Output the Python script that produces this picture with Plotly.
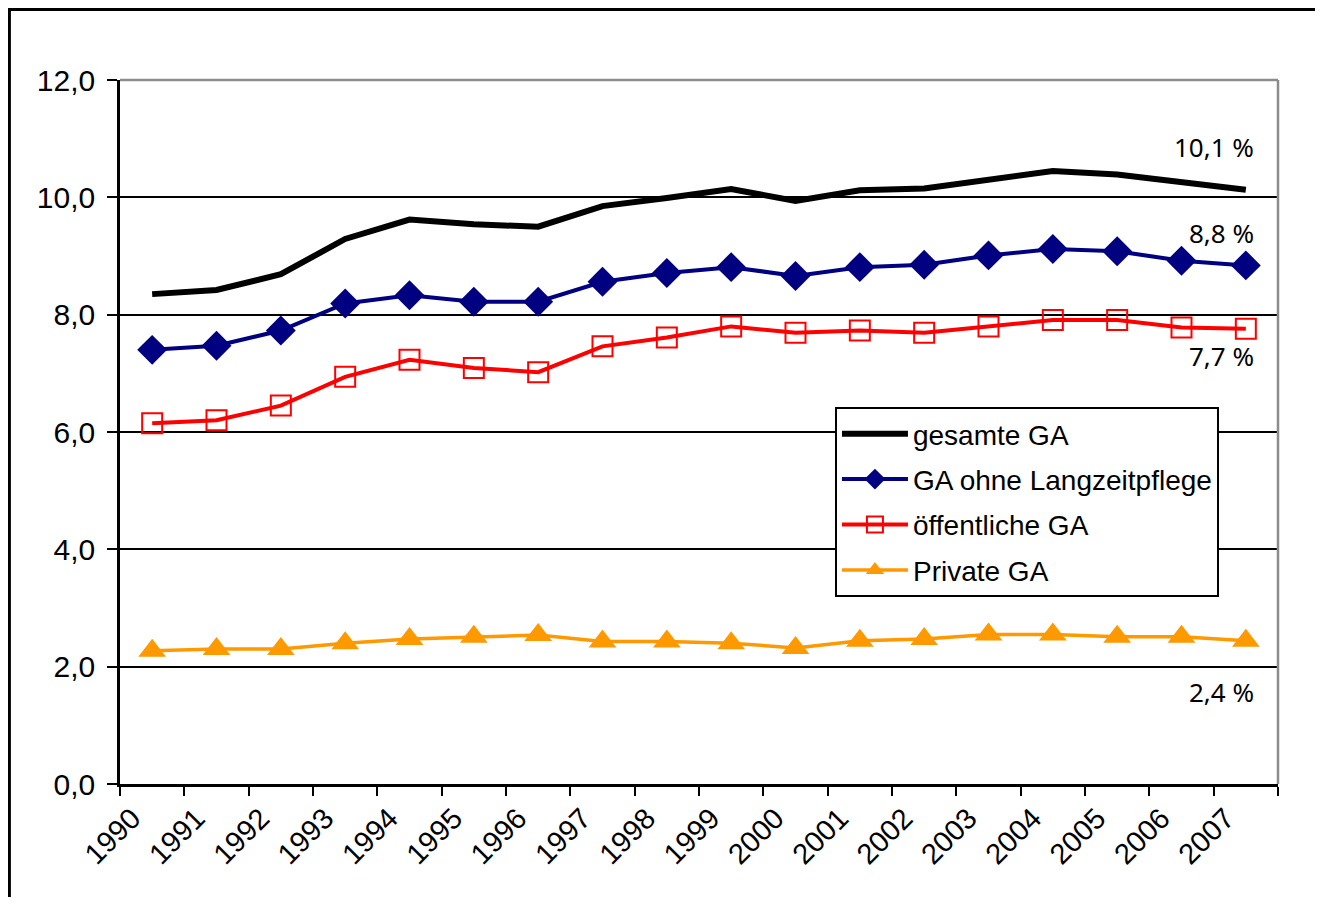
import plotly.graph_objects as go

# ── Data ─────────────────────────────────────────────────────────────────────
YEARS = [str(y) for y in range(1990, 2008)]

GESAMTE_GA = [8.35, 8.42, 8.69, 9.29, 9.62, 9.54, 9.50, 9.85, 9.99, 10.14,
              9.94, 10.12, 10.15, 10.30, 10.45, 10.39, 10.27, 10.13]
GA_OHNE_LZP = [7.40, 7.47, 7.73, 8.19, 8.33, 8.22, 8.22, 8.56, 8.71, 8.81,
               8.66, 8.81, 8.85, 9.01, 9.12, 9.08, 8.92, 8.84]
OEFFENTLICHE_GA = [6.15, 6.20, 6.45, 6.94, 7.23, 7.09, 7.02, 7.46, 7.61, 7.80,
                   7.69, 7.73, 7.69, 7.80, 7.91, 7.91, 7.78, 7.76]
PRIVATE_GA = [2.27, 2.30, 2.30, 2.40, 2.47, 2.51, 2.54, 2.43, 2.43, 2.40,
              2.32, 2.44, 2.47, 2.55, 2.55, 2.51, 2.51, 2.44]

END_LABELS = ["10,1 %", "8,8 %", "7,7 %", "2,4 %"]
END_LABEL_Y = [10.86, 9.40, 7.30, 1.57]

AXIS_FONT = "Liberation Sans, Arial, sans-serif"

fig = go.Figure()

fig.add_trace(go.Scatter(
    x=YEARS, y=GESAMTE_GA, name="gesamte GA", mode="lines", legendgroup="a",
    line=dict(color="#000000", width=6),
))
fig.add_trace(go.Scatter(
    x=YEARS, y=GA_OHNE_LZP, name="GA ohne Langzeitpflege", mode="lines+markers", legendgroup="b",
    line=dict(color="#000080", width=4),
    marker=dict(symbol="diamond", size=23, color="#000080"),
))
fig.add_trace(go.Scatter(
    x=YEARS, y=OEFFENTLICHE_GA, name="öffentliche GA", mode="lines+markers", legendgroup="c",
    line=dict(color="#ff0000", width=4),
    marker=dict(symbol="square-open", size=20, color="#ff0000", line=dict(width=2, color="#ff0000")),
))
fig.add_trace(go.Scatter(
    x=YEARS, y=PRIVATE_GA, name="Private GA", mode="lines+markers", legendgroup="d",
    line=dict(color="#ff9900", width=3.5),
    marker=dict(symbol="triangle-up", size=24, color="#ff9900"),
))

# end-of-series percentage labels
for txt, yv in zip(END_LABELS, END_LABEL_Y):
    fig.add_annotation(
        x=0.981, xref="paper", y=yv, yref="y", text=txt, showarrow=False,
        xanchor="right", yanchor="middle",
        font=dict(family="Noto Sans, DejaVu Sans, sans-serif", size=26, color="#000000"),
    )

shapes = [
    # grey plot-area border (top and right)
    dict(type="line", xref="paper", yref="paper", x0=0, x1=1, y0=1, y1=1,
         line=dict(color="#8c8c8c", width=2.5), layer="above"),
    dict(type="line", xref="paper", yref="paper", x0=1, x1=1, y0=0, y1=1,
         line=dict(color="#8c8c8c", width=2.5), layer="above"),
    # outer chart frame
    dict(type="rect", xref="paper", yref="paper", x0=-0.0955, x1=1.2, y0=-0.4, y1=1.1,
         line=dict(color="#000000", width=3), layer="above"),
]

fig.update_layout(
    width=1307, height=889,
    margin=dict(l=112, r=37, t=72, b=113),
    paper_bgcolor="white", plot_bgcolor="white",
    separators=", ",
    showlegend=True,
    shapes=shapes,
    font=dict(family=AXIS_FONT, color="#000000"),
    xaxis=dict(
        type="category", range=[-0.5, 17.5], tickson="boundaries",
        showgrid=False, showline=True, linecolor="#000000", linewidth=2.5,
        ticks="outside", ticklen=9, tickwidth=2, tickcolor="#000000",
        tickangle=-45, tickfont=dict(family=AXIS_FONT, size=29),
        ticklabelshift=-20, ticklabelstandoff=3,
    ),
    yaxis=dict(
        range=[0, 12], dtick=2, tickformat=".1f",
        showgrid=True, gridcolor="#000000", gridwidth=2,
        showline=True, linecolor="#000000", linewidth=2.5,
        ticks="outside", ticklen=10, tickwidth=2, tickcolor="#000000",
        tickfont=dict(family=AXIS_FONT, size=30), zeroline=False,
        ticklabelstandoff=6,
    ),
    legend=dict(
        x=0.6174, y=0.5355, xanchor="left", yanchor="top",
        bgcolor="white", bordercolor="#000000", borderwidth=2,
        font=dict(family=AXIS_FONT, size=28), tracegroupgap=6,
        itemwidth=66,
    ),
)

fig.write_html("out.html")
